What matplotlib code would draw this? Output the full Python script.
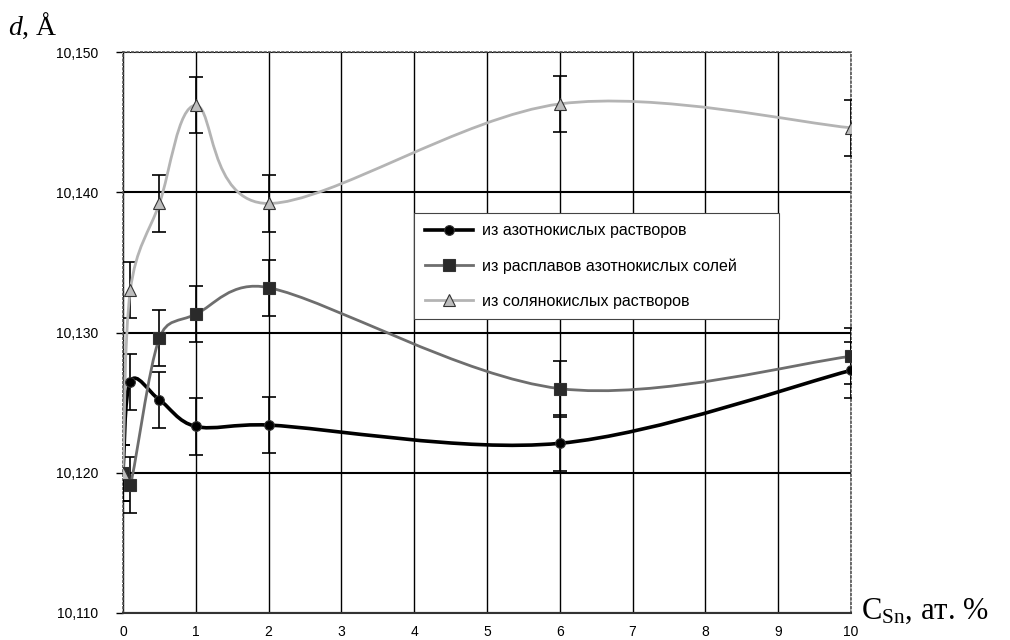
"""
Lattice parameter d vs Sn content for three preparation routes, with error bars.
"""

import numpy as np
import matplotlib
matplotlib.use("Agg")
import matplotlib.pyplot as plt
from matplotlib.path import Path
from matplotlib.patches import PathPatch
from matplotlib.lines import Line2D
from matplotlib.ticker import FuncFormatter, MultipleLocator

plt.rcParams['font.family'] = ['Liberation Sans', 'DejaVu Sans']
plt.rcParams['mathtext.fontset'] = 'custom'
plt.rcParams['mathtext.rm'] = 'Liberation Serif'
plt.rcParams['mathtext.it'] = 'Liberation Serif:italic'

# data
c_sn = [0, 0.1, 0.5, 1, 2, 6, 10]
d_nitrate = [10.1200, 10.1265, 10.1252, 10.1233, 10.1234, 10.1221, 10.1273]
d_melt = [10.1200, 10.1191, 10.1296, 10.1313, 10.1332, 10.1260, 10.1283]
d_chloride = [10.1200, 10.1330, 10.1392, 10.1462, 10.1392, 10.1463, 10.1446]
err_nitrate = [0.002] * 7
err_melt = [0.002] * 7
err_chloride = [0.002] * 7

labels = ["из азотнокислых растворов",
          "из расплавов азотнокислых солей",
          "из солянокислых растворов"]


def smooth_path(ax, x, y):
    # Excel-like smoothed line, worked out in screen space, then mapped back
    pts = ax.transData.transform(np.column_stack([x, y]))
    n = len(pts)
    verts = [pts[0]]
    codes = [Path.MOVETO]
    for i in range(n - 1):
        p0 = pts[i - 1] if i > 0 else pts[i]
        p1 = pts[i]
        p2 = pts[i + 1]
        p3 = pts[i + 2] if i + 2 < n else pts[i + 1]
        seg = np.hypot(*(p2 - p1))
        t1 = (p2 - p0) / 6
        t2 = (p3 - p1) / 6
        if np.hypot(*t1) > seg / 2:
            t1 = t1 * seg / 2 / np.hypot(*t1)
        if np.hypot(*t2) > seg / 2:
            t2 = t2 * seg / 2 / np.hypot(*t2)
        verts += [p1 + t1, p2 - t2, p2]
        codes += [Path.CURVE4] * 3
    verts = ax.transData.inverted().transform(np.array(verts))
    return Path(verts, codes)


fig = plt.figure(figsize=(10.1, 6.4), dpi=100)
ax = fig.add_axes([0.1218, 0.0422, 0.7208, 0.8765])
ax.set_xlim(0, 10)
ax.set_ylim(10.110, 10.150)

series = [
    (d_nitrate, err_nitrate, 'black', 2.6, 'o', 'black', 7),
    (d_melt, err_melt, '#6e6e6e', 2.0, 's', '#2a2a2a', 8),
    (d_chloride, err_chloride, '#b4b4b4', 2.0, '^', '#bdbdbd', 8),
]

handles = []
for (d, err, col, lw, mk, mcol, ms), lab in zip(series, labels):
    ax.errorbar(c_sn, d, yerr=err, fmt='none', ecolor='black',
                elinewidth=1.2, capsize=5, capthick=1.2, zorder=3)
    ax.add_patch(PathPatch(smooth_path(ax, c_sn, d), facecolor='none',
                           edgecolor=col, lw=lw, zorder=4))
    ax.plot(c_sn, d, ls='none', marker=mk, ms=ms, color=mcol,
            mec='#333333', mew=0.8, zorder=5)
    handles.append(Line2D([], [], color=col, lw=lw, marker=mk, ms=ms,
                          mfc=mcol, mec='#333333', mew=0.8))

ax.xaxis.set_major_locator(MultipleLocator(1))
ax.yaxis.set_major_locator(MultipleLocator(0.01))
ax.yaxis.set_major_formatter(FuncFormatter(lambda v, p: f"{v:.3f}".replace('.', ',')))
ax.tick_params(axis='y', length=5, width=1, pad=13, labelsize=10)
ax.tick_params(axis='x', length=0, pad=9, labelsize=10)

ax.grid(True, axis='x', color='black', lw=1.0)
ax.grid(True, axis='y', color='black', lw=1.5)
ax.set_axisbelow(True)

for side in ['top', 'left', 'right']:
    ax.spines[side].set_linestyle(':')
    ax.spines[side].set_color('#555555')
    ax.spines[side].set_linewidth(1.2)
ax.spines['bottom'].set_color('#333333')
ax.spines['bottom'].set_linewidth(1.5)

leg = ax.legend(handles, labels, loc='upper left', mode='expand',
                bbox_to_anchor=(0.40, 0.507, 0.501, 0.206), fontsize=11.5,
                handlelength=3.0, handletextpad=0.6, labelspacing=1.25,
                borderpad=0.65, borderaxespad=0, fancybox=False, framealpha=1,
                edgecolor='#444444')
leg.get_frame().set_linewidth(0.8)
leg.set_zorder(6)

fig.text(0.008, 0.945, "$d$, Å", fontsize=20, family='Liberation Serif')
fig.text(0.852, 0.045, r"C$_{\rm Sn}$, ат. %", fontsize=22,
         family='Liberation Serif', va='center')

fig.savefig("out.png", dpi=100)
